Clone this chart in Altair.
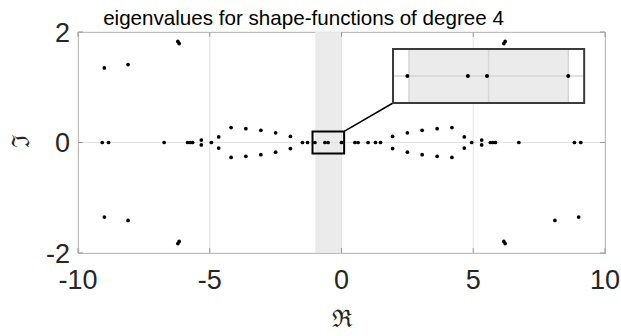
import altair as alt
import pandas as pd

# Eigenvalues (real part, imaginary part)
RE = [
    -9.08, -8.84, -6.73, -5.84, -5.74, -5.65, -4.94, -1.48, -1.29, -1.01, -0.63, -0.51, 0.00,
    0.51, 0.63, 1.01, 1.29, 1.48, 4.94, 5.65, 5.74, 5.84, 6.73, 8.84, 9.08,
    -9.00, -9.00, -8.10, -8.10, -6.21, -6.21, -6.16, -6.16, -5.32, -5.32, -4.66, -4.66,
    -4.19, -4.19, -3.63, -3.63, -3.06, -3.06, -2.50, -2.50, -1.94, -1.94,
    9.00, 9.00, 8.10, 8.10, 6.21, 6.21, 6.16, 6.16, 5.32, 5.32, 4.66, 4.66,
    4.19, 4.19, 3.63, 3.63, 3.06, 3.06, 2.50, 2.50, 1.94, 1.94,
]
IM = [
    0, 0, 0, 0, 0, 0, 0, 0, 0, 0, 0, 0, 0,
    0, 0, 0, 0, 0, 0, 0, 0, 0, 0, 0, 0,
    1.35, -1.35, 1.41, -1.41, 1.83, -1.83, 1.79, -1.79, 0.045, -0.045, 0.10, -0.10,
    0.27, -0.27, 0.25, -0.25, 0.22, -0.22, 0.176, -0.176, 0.11, -0.11,
    1.35, -1.35, 1.41, -1.41, 1.83, -1.83, 1.79, -1.79, 0.045, -0.045, 0.10, -0.10,
    0.27, -0.27, 0.25, -0.25, 0.22, -0.22, 0.176, -0.176, 0.11, -0.11,
]

X_LIMITS = [-10, 10]
Y_LIMITS = [-2, 2]
X_TICKS = [-10, -5, 0, 5, 10]
Y_TICKS = [-2, 0, 2]
BAND = [-1, 0]                      # shaded strip on the real axis
ZOOM_X = [-1.1, 0.1]                # magnified window
ZOOM_Y = [-0.2, 0.2]
INSET_X = [1.955, 9.21]             # where the magnified window is drawn (main units)
INSET_Y = [0.715, 1.692]
INSET_GRID_X = [-1, -0.5, 0]
INSET_GRID_Y = [0]

TITLE = "eigenvalues for shape-functions of degree 4"
X_TITLE = "ℜ"
Y_TITLE = "ℑ"

W, H = 527, 221
AXIS_COLOR = "#999999"
TEXT_COLOR = "#262626"
GRID_COLOR = "#e3e3e3"
BAND_COLOR = "#ebebeb"
INSET_GRID_COLOR = "#d6d6d6"
TICK_LEN = 5
LABEL_FONT = "Liberation Sans"
LABEL_SIZE = 27

xs = alt.Scale(domain=X_LIMITS, nice=False, zero=False)
ys = alt.Scale(domain=Y_LIMITS, nice=False, zero=False)

# linear map from the magnified window onto the inset rectangle (as Vega expressions)
KX = (INSET_X[1] - INSET_X[0]) / (ZOOM_X[1] - ZOOM_X[0])
KY = (INSET_Y[1] - INSET_Y[0]) / (ZOOM_Y[1] - ZOOM_Y[0])


def to_inset_x(field):
    return f"{INSET_X[0]} + (datum.{field} - ({ZOOM_X[0]})) * {KX}"


def to_inset_y(field):
    return f"{INSET_Y[0]} + (datum.{field} - ({ZOOM_Y[0]})) * {KY}"


def X(field):
    return alt.X(f"{field}:Q", scale=xs, axis=None)


def Y(field):
    return alt.Y(f"{field}:Q", scale=ys, axis=None)


pts = pd.DataFrame({"re": RE, "im": IM})
xt = pd.DataFrame({"t": X_TICKS, "label": [str(v) for v in X_TICKS],
                   "lo": Y_LIMITS[0], "hi": Y_LIMITS[1]})
yt = pd.DataFrame({"t": Y_TICKS, "label": [str(v) for v in Y_TICKS],
                   "lo": X_LIMITS[0], "hi": X_LIMITS[1]})

# ---- main axes -------------------------------------------------------------
band_df = pd.DataFrame({"x": [BAND[0]], "x2": [BAND[1]], "y": [Y_LIMITS[0]], "y2": [Y_LIMITS[1]]})
band = alt.Chart(band_df).mark_rect(color=BAND_COLOR).encode(
    x=X("x"), x2="x2:Q", y=Y("y"), y2="y2:Q",
)

grid_x = alt.Chart(xt).mark_rule(color=GRID_COLOR).encode(x=X("t"), y=Y("lo"), y2="hi:Q")
grid_y = alt.Chart(yt).mark_rule(color=GRID_COLOR).encode(y=Y("t"), x=X("lo"), x2="hi:Q")

tick_x_bottom = alt.Chart(xt).mark_rule(color=AXIS_COLOR).encode(
    x=X("t"), y=alt.value(H), y2=alt.value(H - TICK_LEN))
tick_x_top = alt.Chart(xt).mark_rule(color=AXIS_COLOR).encode(
    x=X("t"), y=alt.value(0), y2=alt.value(TICK_LEN))
tick_y_left = alt.Chart(yt).mark_rule(color=AXIS_COLOR).encode(
    y=Y("t"), x=alt.value(0), x2=alt.value(TICK_LEN))
tick_y_right = alt.Chart(yt).mark_rule(color=AXIS_COLOR).encode(
    y=Y("t"), x=alt.value(W), x2=alt.value(W - TICK_LEN))

x_labels = alt.Chart(xt).mark_text(
    font=LABEL_FONT, fontSize=LABEL_SIZE, color=TEXT_COLOR, align="center", baseline="alphabetic",
).encode(x=X("t"), y=alt.value(H + 36), text="label:N")
y_labels = alt.Chart(yt).mark_text(
    font=LABEL_FONT, fontSize=LABEL_SIZE, color=TEXT_COLOR, align="right", baseline="alphabetic",
    dy=LABEL_SIZE * 0.358,
).encode(y=Y("t"), x=alt.value(-8), text="label:N")

x_title = alt.Chart(pd.DataFrame({"s": [X_TITLE]})).mark_text(
    font="DejaVu Serif", fontSize=24, color=TEXT_COLOR, align="center", baseline="alphabetic",
).encode(x=alt.value(W / 2), y=alt.value(H + 74), text="s:N")
y_title = alt.Chart(pd.DataFrame({"s": [Y_TITLE]})).mark_text(
    font="DejaVu Serif", fontSize=24, color=TEXT_COLOR, align="center", baseline="middle",
    angle=270,
).encode(x=alt.value(-56), y=alt.value(H / 2 - 1), text="s:N")

dots = alt.Chart(pts).mark_circle(color="black", size=14, opacity=1).encode(
    x=X("re"), y=Y("im"),
)

zoom_df = pd.DataFrame({"x": [ZOOM_X[0]], "x2": [ZOOM_X[1]], "y": [ZOOM_Y[0]], "y2": [ZOOM_Y[1]]})
zoom_box = alt.Chart(zoom_df).mark_rect(fillOpacity=0, stroke="black", strokeWidth=2).encode(
    x=X("x"), x2="x2:Q", y=Y("y"), y2="y2:Q",
)

link_df = pd.DataFrame({"x": [ZOOM_X[1]], "y": [ZOOM_Y[1]], "x2": [INSET_X[0]], "y2": [INSET_Y[0]]})
link = alt.Chart(link_df).mark_rule(color="black", strokeWidth=1.5).encode(
    x=X("x"), x2="x2:Q", y=Y("y"), y2="y2:Q",
)

# ---- magnified inset -------------------------------------------------------
inset_df = pd.DataFrame({"x": [INSET_X[0]], "x2": [INSET_X[1]], "y": [INSET_Y[0]], "y2": [INSET_Y[1]]})
inset_bg = alt.Chart(inset_df).mark_rect(color="white").encode(
    x=X("x"), x2="x2:Q", y=Y("y"), y2="y2:Q",
)
inset_band = alt.Chart(pd.DataFrame({"a": [BAND[0]], "b": [BAND[1]]})).transform_calculate(
    x=to_inset_x("a"), x2=to_inset_x("b"), y=str(INSET_Y[0]), y2=str(INSET_Y[1]),
).mark_rect(color=BAND_COLOR).encode(
    x=X("x"), x2="x2:Q", y=Y("y"), y2="y2:Q",
)
inset_grid_x = alt.Chart(pd.DataFrame({"g": INSET_GRID_X})).transform_calculate(
    x=to_inset_x("g"), y=str(INSET_Y[0]), y2=str(INSET_Y[1]),
).mark_rule(color=INSET_GRID_COLOR, strokeWidth=1.5).encode(
    x=X("x"), y=Y("y"), y2="y2:Q",
)
inset_grid_y = alt.Chart(pd.DataFrame({"g": INSET_GRID_Y})).transform_calculate(
    y=to_inset_y("g"), x=str(INSET_X[0]), x2=str(INSET_X[1]),
).mark_rule(color=INSET_GRID_COLOR, strokeWidth=1.5).encode(
    y=Y("y"), x=X("x"), x2="x2:Q",
)
inset_frame = alt.Chart(inset_df).mark_rect(fillOpacity=0, stroke="#3a3a3a", strokeWidth=2).encode(
    x=X("x"), x2="x2:Q", y=Y("y"), y2="y2:Q",
)
inset_dots = alt.Chart(pts).transform_filter(
    (alt.datum.re >= ZOOM_X[0]) & (alt.datum.re <= ZOOM_X[1])
    & (alt.datum.im >= ZOOM_Y[0]) & (alt.datum.im <= ZOOM_Y[1])
).transform_calculate(
    ix=to_inset_x("re"), iy=to_inset_y("im"),
).mark_circle(color="black", size=16, opacity=1).encode(
    x=X("ix"), y=Y("iy"),
)

title = alt.Chart(pd.DataFrame({"s": [TITLE]})).mark_text(
    font=LABEL_FONT, fontSize=20.6, color="black", align="center", baseline="alphabetic",
).encode(x=alt.value(W / 2 - 38), y=alt.value(-7), text="s:N")

chart = alt.layer(
    band, grid_x, grid_y, tick_x_bottom, tick_x_top, tick_y_left, tick_y_right,
    x_labels, y_labels, x_title, y_title, title,
    dots, zoom_box, link,
    inset_bg, inset_band, inset_grid_x, inset_grid_y, inset_dots, inset_frame,
).properties(
    width=W, height=H,
    autosize=alt.AutoSizeParams(type="none"),
    padding={"left": 78, "top": 32, "right": 16, "bottom": 83},
).configure_view(stroke=AXIS_COLOR, strokeWidth=1)

chart.save("out.html", embed_options={"renderer": "svg", "actions": False})
